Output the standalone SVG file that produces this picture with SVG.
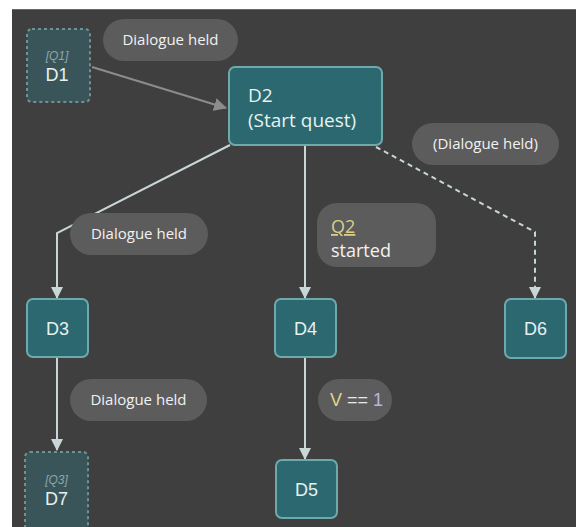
<svg xmlns="http://www.w3.org/2000/svg" width="576" height="527" viewBox="0 0 576 527">
  <style>
    .node { fill: #2c6870; stroke: #6ea9ab; stroke-width: 2; }
    .ghost { fill: #3a5559; stroke: #6b9496; stroke-width: 2; stroke-dasharray: 3 3; }
    .pill { fill: #5c5c5c; }
    .lbl { font-family: "Liberation Sans", Arial, sans-serif; font-size: 18px; fill: #e6f0f0; text-anchor: middle; }
    .tag { font-family: "Liberation Sans", Arial, sans-serif; font-size: 12px; font-style: italic; fill: #8aa6a8; text-anchor: middle; }
    .ptxt { font-family: "Open Sans", "Noto Sans", sans-serif; font-size: 15px; fill: #f2f2f2; }
    .big { font-size: 18px; }
    .title { font-family: "Open Sans", "Noto Sans", sans-serif; font-size: 19px; fill: #e6f2f2; }
    .edge { fill: none; stroke: #c9d6d8; stroke-width: 2; }
    .dash { stroke-dasharray: 5 4; }
    .grey { fill: none; stroke: #8c8c8c; stroke-width: 2; }
  </style>
  <defs>
    <marker id="head" viewBox="0 0 12 12" refX="11" refY="6" markerWidth="12" markerHeight="12" markerUnits="userSpaceOnUse" orient="auto">
      <path d="M0,0 L12,6 L0,12 Z" fill="#c9d6d8"/>
    </marker>
    <marker id="headGrey" viewBox="0 0 12 12" refX="11" refY="6" markerWidth="13" markerHeight="13" markerUnits="userSpaceOnUse" orient="auto">
      <path d="M0,0 L12,6 L0,12 Z" fill="#8c8c8c"/>
    </marker>
  </defs>

  <!-- canvas -->
  <rect x="0" y="0" width="576" height="527" fill="#ffffff"/>
  <rect x="12" y="9" width="564" height="518" fill="#3f3f3f"/>
  <line x1="12" y1="9.5" x2="576" y2="9.5" stroke="#6a6a6a" stroke-width="1"/>

  <!-- connectors -->
  <g id="connectors">
    <path class="grey" d="M92,67 L226,108" marker-end="url(#headGrey)"/>
    <path class="edge" d="M230,145 L57,233 L57,298" marker-end="url(#head)"/>
    <path class="edge" d="M305,145 L305,298" marker-end="url(#head)"/>
    <path class="edge dash" d="M376,147 L535,232 L535,298" marker-end="url(#head)"/>
    <path class="edge" d="M57,357 L57,450" marker-end="url(#head)"/>
    <path class="edge" d="M305,357 L305,459" marker-end="url(#head)"/>
  </g>

  <!-- edge labels -->
  <g id="label-d1-d2">
    <rect class="pill" x="103" y="19" width="135" height="42" rx="21"/>
    <text class="ptxt" x="170.5" y="45" text-anchor="middle">Dialogue held</text>
  </g>
  <g id="label-d2-d3">
    <rect class="pill" x="70" y="213" width="138" height="42" rx="21"/>
    <text class="ptxt" x="139" y="239" text-anchor="middle">Dialogue held</text>
  </g>
  <g id="label-d2-d4">
    <rect class="pill" x="317" y="203" width="119" height="64" rx="20"/>
    <text class="ptxt big" x="331" y="233" style="fill:#d9cf8a" text-decoration="underline">Q2</text>
    <text class="ptxt big" x="331" y="257">started</text>
  </g>
  <g id="label-d2-d6">
    <rect class="pill" x="412" y="123" width="147" height="42" rx="21"/>
    <text class="ptxt" x="485.5" y="149" text-anchor="middle">(Dialogue held)</text>
  </g>
  <g id="label-d3-d7">
    <rect class="pill" x="70" y="379" width="137" height="42" rx="21"/>
    <text class="ptxt" x="138.5" y="405" text-anchor="middle">Dialogue held</text>
  </g>
  <g id="label-d4-d5">
    <rect class="pill" x="318" y="379" width="74" height="42" rx="21"/>
    <text x="330" y="406" font-family="Liberation Sans, Arial, sans-serif" font-size="18"><tspan fill="#e3d48a">V</tspan><tspan fill="#e8e8e8"> == </tspan><tspan fill="#b9b4e0">1</tspan></text>
  </g>

  <!-- nodes -->
  <g id="D1">
    <rect class="ghost" x="27" y="29" width="63" height="73" rx="5"/>
    <text class="tag" x="57" y="60">[Q1]</text>
    <text class="lbl" x="57" y="81">D1</text>
  </g>
  <g id="D2">
    <rect class="node" x="229" y="67" width="153" height="78" rx="6"/>
    <text class="title" x="248" y="102">D2</text>
    <text class="title" x="248" y="127">(Start quest)</text>
  </g>
  <g id="D3">
    <rect class="node" x="27" y="299" width="61" height="58" rx="6"/>
    <text class="lbl" x="57.5" y="335">D3</text>
  </g>
  <g id="D4">
    <rect class="node" x="275" y="299" width="61" height="58" rx="6"/>
    <text class="lbl" x="305.5" y="335">D4</text>
  </g>
  <g id="D6">
    <rect class="node" x="505" y="299" width="61" height="59" rx="6"/>
    <text class="lbl" x="535.5" y="335">D6</text>
  </g>
  <g id="D7">
    <rect class="ghost" x="25" y="452" width="63" height="80" rx="5"/>
    <text class="tag" x="56.5" y="484">[Q3]</text>
    <text class="lbl" x="56.5" y="505">D7</text>
  </g>
  <g id="D5">
    <rect class="node" x="276" y="460" width="61" height="58" rx="6"/>
    <text class="lbl" x="306.5" y="496">D5</text>
  </g>
</svg>
